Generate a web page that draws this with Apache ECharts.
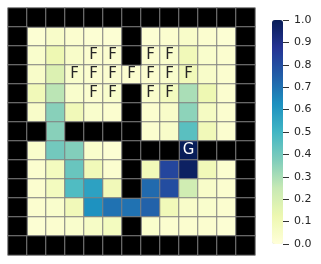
<!DOCTYPE html>
<html><head><meta charset="utf-8">
<script src="https://cdn.jsdelivr.net/npm/echarts@6/dist/echarts.min.js"></script>
<style>html,body{margin:0;padding:0;background:#fff}#c{width:321px;height:264px}</style>
</head><body><div id="c"></div>
<script>
// Layout: W = wall, F/G = labelled cells, . = open cell
const layoutRows = [
  "WWWWWWWWWWWWW",
  "W.....W.....W",
  "W...FFWFF...W",
  "W..FFFFFFF..W",
  "W...FFWFF...W",
  "W.....W.....W",
  "WW.WWWW.....W",
  "W.....WWWGWWW",
  "W.....W.....W",
  "W.....W.....W",
  "W...........W",
  "W.....W.....W",
  "WWWWWWWWWWWWW"
];
const _ = null;
const valueRows = [
  [_,_,_,_,_,_,_,_,_,_,_,_,_],
  [_,0.02,0.05,0.03,0.02,0.02,_,0.02,0.03,0.05,0.03,0.02,_],
  [_,0.04,0.12,0.05,0.03,0.03,_,0.03,0.04,0.10,0.04,0.03,_],
  [_,0.05,0.18,0.04,0.03,0.03,0.03,0.03,0.04,0.10,0.05,0.03,_],
  [_,0.10,0.27,0.04,0.03,0.04,_,0.04,0.08,0.30,0.12,0.03,_],
  [_,0.05,0.36,0.10,0.04,0.03,_,0.03,0.05,0.35,0.07,0.03,_],
  [_,_,0.36,_,_,_,_,0.03,0.05,0.45,0.10,0.03,_],
  [_,0.04,0.40,0.37,0.04,0.02,_,_,_,1.00,_,_,_],
  [_,0.03,0.08,0.42,0.10,0.03,_,0.10,0.82,0.98,0.10,0.03,_],
  [_,0.03,0.08,0.47,0.57,0.10,_,0.72,0.80,0.22,0.05,0.03,_],
  [_,0.03,0.04,0.10,0.62,0.70,0.70,0.74,0.10,0.05,0.04,0.03,_],
  [_,0.02,0.03,0.04,0.06,0.08,_,0.04,0.03,0.03,0.03,0.02,_],
  [_,_,_,_,_,_,_,_,_,_,_,_,_]
];
const colorTicks = [0,0.1,0.2,0.3,0.4,0.5,0.6,0.7,0.8,0.9,1.0];
const ylgnbu = ['#ffffd9','#edf8b1','#c7e9b4','#7fcdbb','#41b6c4','#1d91c0','#225ea8','#253494','#081d58'];

const idx = [...Array(13).keys()].map(String);
const cellData = [], wallData = [];
layoutRows.forEach((row, r) => {
  [...row].forEach((ch, c) => {
    if (ch === 'W') { wallData.push([c, r, 0]); return; }
    const item = { value: [c, r, valueRows[r][c]] };
    if (ch === 'F' || ch === 'G') {
      item.label = { show: true, formatter: ch, color: ch === 'G' ? '#ffffff' : '#262626' };
    }
    cellData.push(item);
  });
});

const chart = echarts.init(document.getElementById('c'), null, {renderer:'canvas'});
chart.setOption({
  animation: false,
  textStyle: { fontFamily: 'DejaVu Sans' },
  grid: [
    { left: 8, top: 8, width: 247, height: 247 },
    { left: 272, top: 20, width: 11, height: 224 }
  ],
  xAxis: [
    { type: 'category', data: idx, show: false, gridIndex: 0 },
    { type: 'category', data: ['c'], show: false, gridIndex: 1 }
  ],
  yAxis: [
    { type: 'category', data: idx, show: false, inverse: true, gridIndex: 0 },
    { type: 'value', gridIndex: 1, min: colorTicks[0], max: colorTicks[colorTicks.length-1], interval: 0.1, position: 'right',
      axisLine: { show: false, onZero: false }, splitLine: { show: false },
      axisTick: { show: true, inside: false, length: 6, lineStyle: { color: '#333', width: 1 } },
      axisLabel: { color: '#262626', fontSize: 11, margin: 11, formatter: v => v.toFixed(1), fontFamily: 'DejaVu Sans' } }
  ],
  visualMap: {
    type: 'continuous', min: 0, max: 1, seriesIndex: 0, calculable: false,
    orient: 'vertical', left: 272, top: 20, itemWidth: 11, itemHeight: 224, padding: 0,
    text: null, showLabel: false,
    inRange: { color: ylgnbu }
  },
  series: [
    { type: 'heatmap', data: cellData, xAxisIndex: 0, yAxisIndex: 0,
      itemStyle: { borderColor: '#808080', borderWidth: 1 },
      label: { show: false, fontSize: 15, fontFamily: 'DejaVu Sans' },
      emphasis: { disabled: true } },
    { type: 'heatmap', data: wallData, xAxisIndex: 0, yAxisIndex: 0,
      itemStyle: { color: '#000000', borderColor: '#808080', borderWidth: 1 },
      emphasis: { disabled: true } }
  ]
});
</script></body></html>
